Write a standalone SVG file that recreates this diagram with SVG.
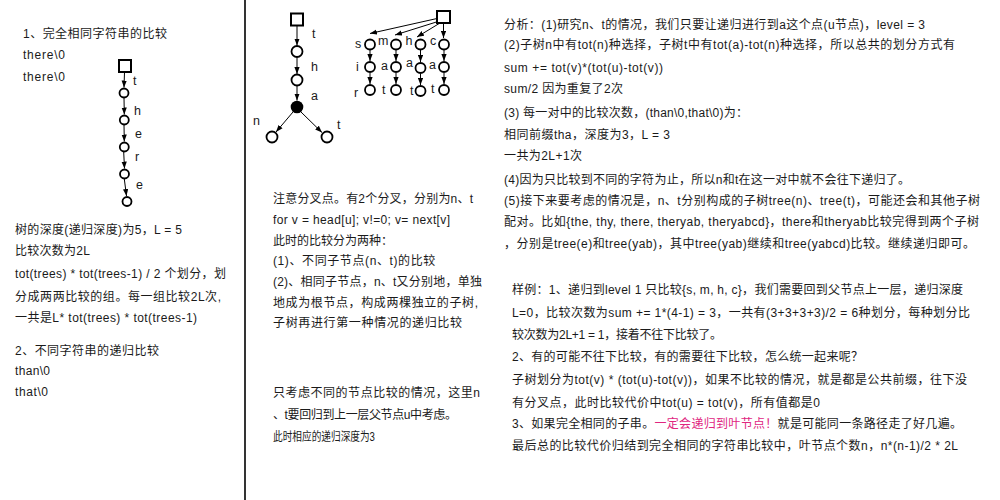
<svg xmlns="http://www.w3.org/2000/svg" width="1000" height="500" viewBox="0 0 1000 500">
<style>
text{font-family:"Liberation Sans","Noto Sans CJK SC",sans-serif;font-size:12px;fill:#1a1a1a}
.lbl{font-size:12.5px}
.pink{fill:#e0267f}
.nd{fill:#fff;stroke:#000;stroke-width:1.8}
.sq{fill:#fff;stroke:#000;stroke-width:2}
.ed{stroke:#000;stroke-width:1;fill:none;marker-end:url(#ah)}
</style>
<defs>
<marker id="ah" viewBox="0 0 8 6" refX="8" refY="3" markerWidth="7" markerHeight="5.5" markerUnits="userSpaceOnUse" orient="auto">
<path d="M0,0 L8,3 L0,6 Z" fill="#000"/>
</marker>
</defs>
<rect width="1000" height="500" fill="#fff"/>
<line x1="245" y1="0" x2="245" y2="500" stroke="#000" stroke-width="1.6"/>

<g id="connectors">
<line class="ed" x1="124.5" y1="72" x2="124" y2="87.5"/>
<line class="ed" x1="124" y1="98" x2="124.3" y2="114.5"/>
<line class="ed" x1="124" y1="125" x2="124.3" y2="141.5"/>
<line class="ed" x1="123.7" y1="152" x2="124.5" y2="168.5"/>
<line class="ed" x1="124.3" y1="179" x2="126.5" y2="196"/>

<line class="ed" x1="297" y1="26" x2="297" y2="45.5"/>
<line class="ed" x1="297" y1="57.5" x2="297" y2="74"/>
<line class="ed" x1="297" y1="86" x2="297" y2="100.5"/>
<line class="ed" x1="293" y1="112" x2="276" y2="132"/>
<line class="ed" x1="301" y1="112" x2="322" y2="132.5"/>

<line class="ed" x1="437" y1="18.5" x2="370" y2="33.5"/>
<line class="ed" x1="438" y1="21.5" x2="395" y2="35"/>
<line class="ed" x1="440" y1="23" x2="417" y2="37"/>
<line class="ed" x1="443.5" y1="23" x2="443.5" y2="38"/>
<line class="ed" x1="370" y1="50" x2="370" y2="61"/>
<line class="ed" x1="370" y1="73" x2="370" y2="84"/>
<line class="ed" x1="396" y1="50" x2="396" y2="61"/>
<line class="ed" x1="396" y1="73" x2="396" y2="84"/>
<line class="ed" x1="420.5" y1="50" x2="420.5" y2="62"/>
<line class="ed" x1="420.5" y1="74" x2="420.5" y2="85"/>
<line class="ed" x1="444" y1="50" x2="444" y2="61"/>
<line class="ed" x1="444" y1="73" x2="444" y2="84"/>
</g>

<g id="tree1">
<rect id="t1-root" class="sq" x="119" y="60" width="12" height="12"/>
<circle id="t1-n1" class="nd" cx="124" cy="93" r="4.5"/>
<circle id="t1-n2" class="nd" cx="124.3" cy="120" r="4.5"/>
<circle id="t1-n3" class="nd" cx="124.3" cy="147" r="4.5"/>
<circle id="t1-n4" class="nd" cx="124.5" cy="174" r="4.5"/>
<circle id="t1-n5" class="nd" cx="127" cy="201.5" r="4.5"/>
<text class="lbl" x="133" y="85">t</text>
<text class="lbl" x="134" y="115">h</text>
<text class="lbl" x="135" y="138">e</text>
<text class="lbl" x="135" y="161">r</text>
<text class="lbl" x="136" y="189">e</text>
</g>

<g id="tree2">
<rect id="t2-root" class="sq" x="291" y="13.5" width="12" height="12"/>
<circle id="t2-n1" class="nd" cx="297" cy="51.5" r="5.5"/>
<circle id="t2-n2" class="nd" cx="297" cy="80" r="5.5"/>
<circle id="t2-u" cx="297" cy="107" r="6.3" fill="#000"/>
<circle id="t2-n" class="nd" cx="272" cy="137" r="5.5"/>
<circle id="t2-t" class="nd" cx="327" cy="137" r="5.5"/>
<text class="lbl" x="312" y="37.5">t</text>
<text class="lbl" x="311" y="70.5">h</text>
<text class="lbl" x="311" y="100">a</text>
<text class="lbl" x="253" y="125">n</text>
<text class="lbl" x="337" y="128.5">t</text>
</g>

<g id="tree3">
<rect id="t3-root" class="sq" x="437" y="11" width="13" height="12"/>
<circle class="nd" cx="370" cy="44.5" r="5"/>
<circle class="nd" cx="370" cy="67" r="5"/>
<circle class="nd" cx="370" cy="90" r="5"/>
<circle class="nd" cx="396" cy="44.5" r="5"/>
<circle class="nd" cx="396" cy="67" r="5"/>
<circle class="nd" cx="396" cy="90" r="5"/>
<circle class="nd" cx="420.5" cy="44.5" r="5"/>
<circle class="nd" cx="420.5" cy="68" r="5"/>
<circle class="nd" cx="420.5" cy="91" r="5"/>
<circle class="nd" cx="444" cy="44.5" r="5"/>
<circle class="nd" cx="444" cy="67" r="5"/>
<circle class="nd" cx="444" cy="90" r="5"/>
<text class="lbl" x="355" y="47.5">s</text>
<text class="lbl" x="378" y="44.5">m</text>
<text class="lbl" x="405.5" y="45">h</text>
<text class="lbl" x="430" y="44.5">c</text>
<text class="lbl" x="356" y="71">i</text>
<text class="lbl" x="381" y="69.5">a</text>
<text class="lbl" x="406" y="67">a</text>
<text class="lbl" x="429" y="69">a</text>
<text class="lbl" x="354" y="96.5">r</text>
<text class="lbl" x="382" y="94">t</text>
<text class="lbl" x="410" y="95">t</text>
<text class="lbl" x="431" y="92.5">t</text>
</g>

<g id="text-left">
<text x="23" y="38" textLength="144">1、完全相同字符串的比较</text>
<text x="23" y="59" textLength="42">there\0</text>
<text x="23" y="81" textLength="42">there\0</text>
<text x="15" y="234" textLength="167">树的深度(递归深度)为5，L = 5</text>
<text x="15" y="255" textLength="75">比较次数为2L</text>
<text x="15" y="278" textLength="211">tot(trees) * tot(trees-1) / 2 个划分，划</text>
<text x="15" y="301" textLength="206">分成两两比较的组。每一组比较2L次,</text>
<text x="15" y="322" textLength="182">一共是L* tot(trees) * tot(trees-1)</text>
<text x="15" y="355" textLength="144">2、不同字符串的递归比较</text>
<text x="15" y="375" textLength="35">than\0</text>
<text x="15" y="396" textLength="33">that\0</text>
</g>

<g id="text-middle">
<text x="273" y="203" textLength="200">注意分叉点。有2个分叉，分别为n、t</text>
<text x="273" y="224" textLength="177">for v = head[u]; v!=0; v= next[v]</text>
<text x="273" y="245" textLength="120">此时的比较分为两种：</text>
<text x="273" y="265" letter-spacing="0.6">(1)、不同子节点(n、t)的比较</text>
<text x="273" y="286" textLength="209">(2)、相同子节点，n、t又分别地，单独</text>
<text x="273" y="307" textLength="205">地成为根节点，构成两棵独立的子树,</text>
<text x="273" y="327" textLength="189">子树再进行第一种情况的递归比较</text>
<text x="273" y="397" textLength="207">只考虑不同的节点比较的情况，这里n</text>
<text x="273" y="419" textLength="184">、t要回归到上一层父节点u中考虑。</text>
<text x="273" y="441" textLength="102" lengthAdjust="spacingAndGlyphs">此时相应的递归深度为3</text>
</g>

<g id="text-right">
<text x="504" y="29" textLength="421">分析：(1)研究n、t的情况，我们只要让递归进行到a这个点(u节点)，level = 3</text>
<text x="504" y="49" textLength="451">(2)子树n中有tot(n)种选择，子树t中有tot(a)-tot(n)种选择，所以总共的划分方式有</text>
<text x="504" y="72" textLength="159">sum += tot(v)*(tot(u)-tot(v))</text>
<text x="504" y="93" textLength="119">sum/2 因为重复了2次</text>
<text x="504" y="117" textLength="244">(3) 每一对中的比较次数，(than\0,that\0)为：</text>
<text x="504" y="139" textLength="166">相同前缀tha，深度为3，L = 3</text>
<text x="504" y="160" textLength="78">一共为2L+1次</text>
<text x="504" y="184" textLength="406">(4)因为只比较到不同的字符为止，所以n和t在这一对中就不会往下递归了。</text>
<text x="504" y="205" textLength="476">(5)接下来要考虑的情况是，n、t分别构成的子树tree(n)、tree(t)，可能还会和其他子树</text>
<text x="504" y="226" textLength="475">配对。比如{the, thy, there, theryab, theryabcd}，there和theryab比较完得到两个子树</text>
<text x="504" y="248" textLength="471">，分别是tree(e)和tree(yab)，其中tree(yab)继续和tree(yabcd)比较。继续递归即可。</text>
</g>

<g id="text-sample">
<text x="512" y="294" textLength="451">样例：1、递归到level 1 只比较{s, m, h, c}，我们需要回到父节点上一层，递归深度</text>
<text x="512" y="317" textLength="458">L=0，比较次数为sum += 1*(4-1) = 3，一共有(3+3+3+3)/2 = 6种划分，每种划分比</text>
<text x="512" y="339" textLength="210">较次数为2L+1 = 1，接着不往下比较了。</text>
<text x="512" y="361" textLength="351">2、有的可能不往下比较，有的需要往下比较，怎么统一起来呢？</text>
<text x="512" y="384" textLength="455">子树划分为tot(v) * (tot(u)-tot(v))，如果不比较的情况，就是都是公共前缀，往下没</text>
<text x="512" y="407" textLength="308">有分叉点，此时比较代价中tot(u) = tot(v)，所有值都是0</text>
<text x="512" y="428" textLength="450">3、如果完全相同的子串。<tspan class="pink">一定会递归到叶节点！</tspan>就是可能同一条路径走了好几遍。</text>
<text x="512" y="450" textLength="446">最后总的比较代价归结到完全相同的字符串比较中，叶节点个数n，n*(n-1)/2 * 2L</text>
</g>
</svg>
